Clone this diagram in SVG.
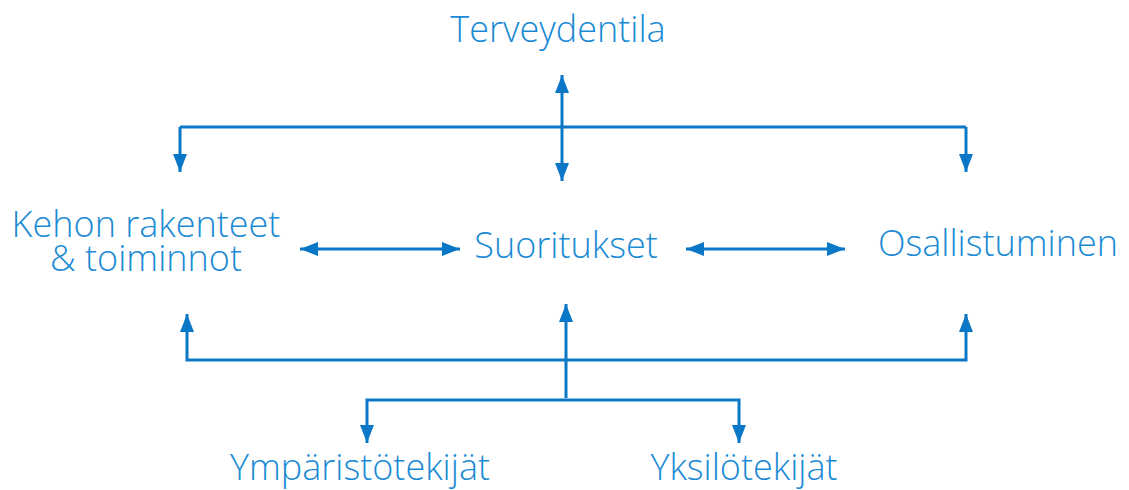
<svg xmlns="http://www.w3.org/2000/svg" width="1129" height="490" viewBox="0 0 1129 490">
<style>
.t{font-family:"Open Sans","Liberation Sans",sans-serif;font-weight:300;font-size:36px;fill:#1a8ad4;text-anchor:middle}
.c{fill:none;stroke:#0a78c6;stroke-width:3}
</style>
<defs>
<marker id="a" viewBox="0 0 18 14" refX="18" refY="7" markerWidth="6" markerHeight="4.667" markerUnits="strokeWidth" orient="auto-start-reverse">
<path d="M0,0L18,7L0,14z" fill="#0a78c6"/>
</marker>
</defs>
<rect width="1129" height="490" fill="#fff"/>
<g id="connectors">
<path class="c" d="M180,127H966"/>
<path class="c" d="M180,127V172" marker-end="url(#a)"/>
<path class="c" d="M966,127V172" marker-end="url(#a)"/>
<path class="c" d="M562,75V181" marker-start="url(#a)" marker-end="url(#a)"/>
<path class="c" d="M300,249H460" marker-start="url(#a)" marker-end="url(#a)"/>
<path class="c" d="M686,249H845" marker-start="url(#a)" marker-end="url(#a)"/>
<path class="c" d="M187,314V360H966V314" marker-start="url(#a)" marker-end="url(#a)"/>
<path class="c" d="M566,398V304" marker-end="url(#a)"/>
<path class="c" d="M367,443V400H739V443" marker-start="url(#a)" marker-end="url(#a)"/>
</g>
<g id="terveydentila"><text class="t" x="558" y="42">Terveydentila</text></g>
<g id="kehon"><text class="t" x="146" y="237"><tspan x="146">Kehon rakenteet</tspan><tspan x="146" dy="34">&amp; toiminnot</tspan></text></g>
<g id="suoritukset"><text class="t" x="566" y="258">Suoritukset</text></g>
<g id="osallistuminen"><text class="t" x="998" y="256">Osallistuminen</text></g>
<g id="ymparisto"><text class="t" x="360" y="480">Ympäristötekijät</text></g>
<g id="yksilo"><text class="t" x="744" y="480">Yksilötekijät</text></g>
</svg>
